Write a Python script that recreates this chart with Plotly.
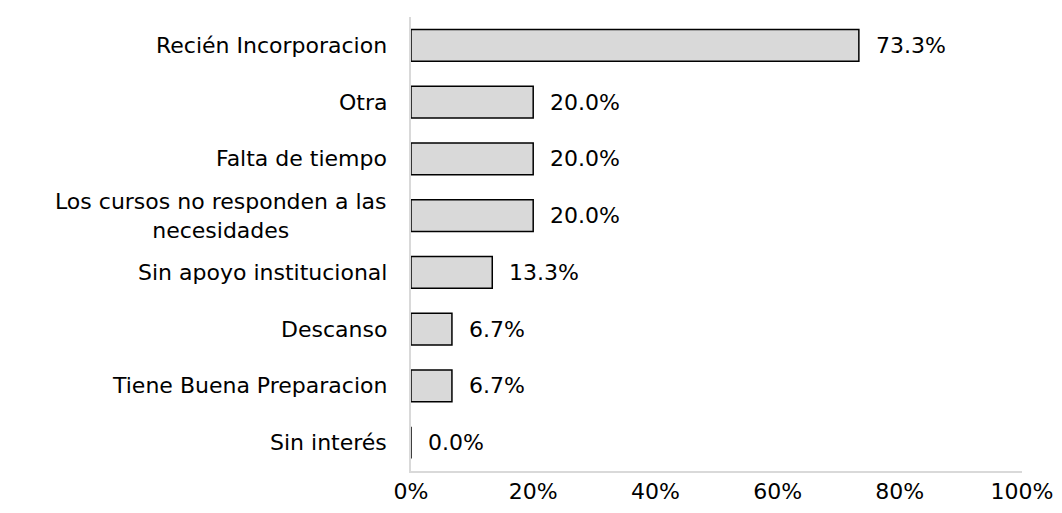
import plotly.graph_objects as go

categorias = [
    "Recién Incorporacion",
    "Otra",
    "Falta de tiempo",
    "Los cursos no responden a las<br>necesidades",
    "Sin apoyo institucional",
    "Descanso",
    "Tiene Buena Preparacion",
    "Sin interés",
]
valores = [73.3, 20.0, 20.0, 20.0, 13.3, 6.7, 6.7, 0.0]
etiquetas_x = ["0%", "20%", "40%", "60%", "80%", "100%"]
ticks_x = [0, 20, 40, 60, 80, 100]

fuente = dict(family="DejaVu Sans, Arial, sans-serif", size=22, color="#000000")

fig = go.Figure(go.Bar(
    y=categorias,
    x=valores,
    orientation="h",
    marker=dict(color="#d9d9d9", line=dict(color="#000000", width=1.5)),
    hoverinfo="skip",
))

# valores al final de cada barra
for cat, v in zip(categorias, valores):
    fig.add_annotation(x=v, y=cat, xref="x", yref="y", text=f"{v:.1f}%",
                       showarrow=False, xanchor="left", xshift=15, font=fuente)

# etiquetas de categoria centradas (texto multilinea)
for cat in categorias:
    fig.add_annotation(x=0, y=cat, xref="paper", yref="y", text=cat,
                       showarrow=False, xanchor="right", align="center",
                       xshift=-22, font=fuente)

fig.update_layout(
    width=1054, height=505,
    margin=dict(l=403, r=34, t=9, b=34),
    paper_bgcolor="white", plot_bgcolor="white",
    bargap=0.44,
    showlegend=False,
    font=fuente,
)
fig.update_xaxes(range=[0, 100], tickvals=ticks_x, ticktext=etiquetas_x,
                 showgrid=False, zeroline=False, showline=True,
                 linecolor="#d9d9d9", linewidth=1.5, ticks="", tickfont=fuente,
                 ticklabeloverflow="allow")
fig.update_yaxes(autorange="reversed", showticklabels=False, showgrid=False,
                 showline=True, linecolor="#d9d9d9", linewidth=1.5, ticks="")

fig.write_html("out.html")
